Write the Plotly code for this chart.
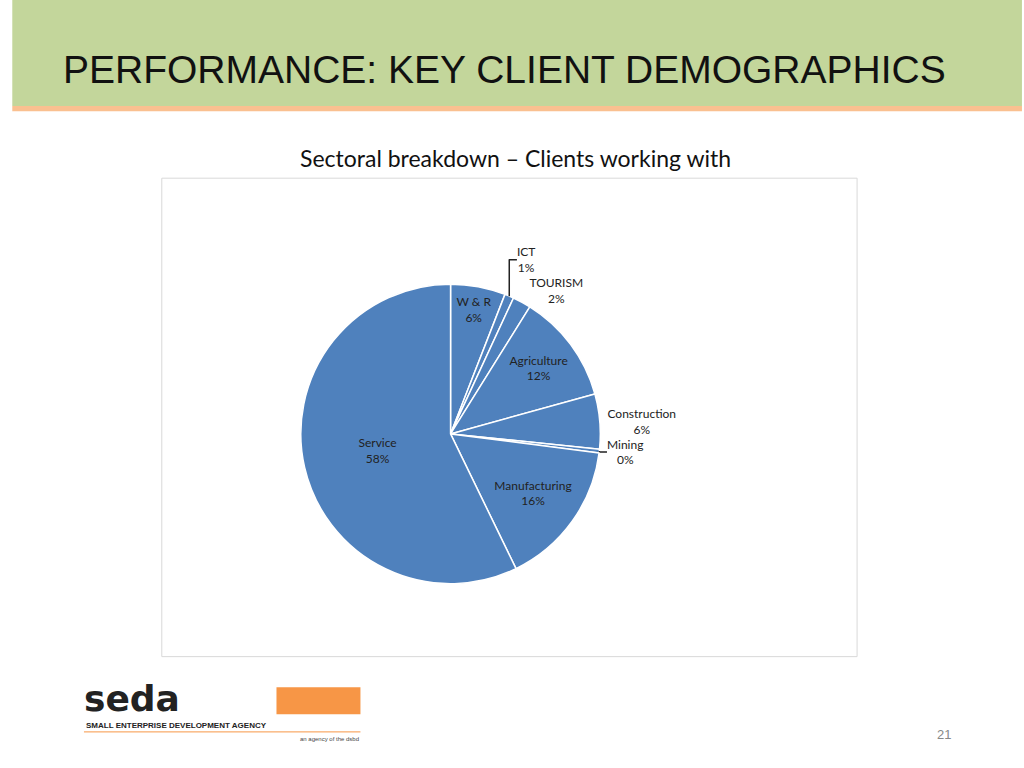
import plotly.graph_objects as go

sectors = ["W & R", "ICT", "TOURISM", "Agriculture", "Construction", "Mining", "Manufacturing", "Service"]
shares = [6, 1, 2, 12, 6, 0.4, 16, 58]
share_labels = ["6%", "1%", "2%", "12%", "6%", "0%", "16%", "58%"]
label_pos = ["inside", "outside", "outside", "inside", "outside", "outside", "inside", "inside"]

fig = go.Figure()
fig.add_trace(go.Pie(
    labels=sectors, values=shares, sort=False, direction="clockwise", rotation=0,
    text=[f"{s}<br>{p}" for s, p in zip(sectors, share_labels)],
    textinfo="text", textposition=label_pos,
    insidetextorientation="horizontal",
    textfont=dict(family="Lato", size=12, color="#222"),
    marker=dict(colors=["#4F81BD"] * len(sectors), line=dict(color="white", width=1.5)),
    showlegend=False,
    domain=dict(x=[0.29, 0.59], y=[0.24, 0.63]),
    hoverinfo="label+percent",
))

fig.update_layout(
    width=1024, height=768, margin=dict(l=0, r=0, t=0, b=0),
    paper_bgcolor="white", plot_bgcolor="white",
    shapes=[
        dict(type="rect", xref="paper", yref="paper", x0=0.012, x1=0.998, y0=0.862, y1=1.0,
             fillcolor="#C3D69B", line=dict(width=0)),
        dict(type="rect", xref="paper", yref="paper", x0=0.012, x1=0.998, y0=0.855, y1=0.862,
             fillcolor="#F79646", line=dict(width=0), opacity=0.6),
        dict(type="rect", xref="paper", yref="paper", x0=0.158, x1=0.837, y0=0.145, y1=0.768,
             line=dict(color="#D9D9D9", width=1)),
        dict(type="rect", xref="paper", yref="paper", x0=0.27, x1=0.352, y0=0.07, y1=0.105,
             fillcolor="#F79646", line=dict(width=0)),
        dict(type="line", xref="paper", yref="paper", x0=0.082, x1=0.352, y0=0.047, y1=0.047,
             line=dict(color="#F79646", width=1)),
    ],
    annotations=[
        dict(text="PERFORMANCE: KEY CLIENT DEMOGRAPHICS", x=0.06, y=0.91, xref="paper", yref="paper",
             xanchor="left", yanchor="middle", showarrow=False,
             font=dict(family="Liberation Sans", size=39, color="#111")),
        dict(text="Sectoral breakdown – Clients working with", x=0.503, y=0.794, xref="paper", yref="paper",
             yanchor="middle", showarrow=False, font=dict(family="Lato", size=23, color="#111")),
        dict(text="<b>seda</b>", x=0.08, y=0.09, xref="paper", yref="paper", xanchor="left",
             yanchor="middle", showarrow=False, font=dict(family="DejaVu Sans", size=36, color="#222")),
        dict(text="<b>SMALL ENTERPRISE DEVELOPMENT AGENCY</b>", x=0.082, y=0.055, xref="paper", yref="paper",
             xanchor="left", yanchor="middle", showarrow=False,
             font=dict(family="Liberation Sans", size=8, color="#222")),
        dict(text="an agency of the dsbd", x=0.353, y=0.038, xref="paper", yref="paper",
             xanchor="right", yanchor="middle", showarrow=False,
             font=dict(family="Liberation Sans", size=6, color="#444")),
        dict(text="21", x=0.931, y=0.043, xref="paper", yref="paper", yanchor="middle",
             showarrow=False, font=dict(family="Liberation Sans", size=13, color="#888")),
    ],
)

fig.write_html("out.html", config={"displayModeBar": False},
               post_script="document.body.style.margin='0';")
